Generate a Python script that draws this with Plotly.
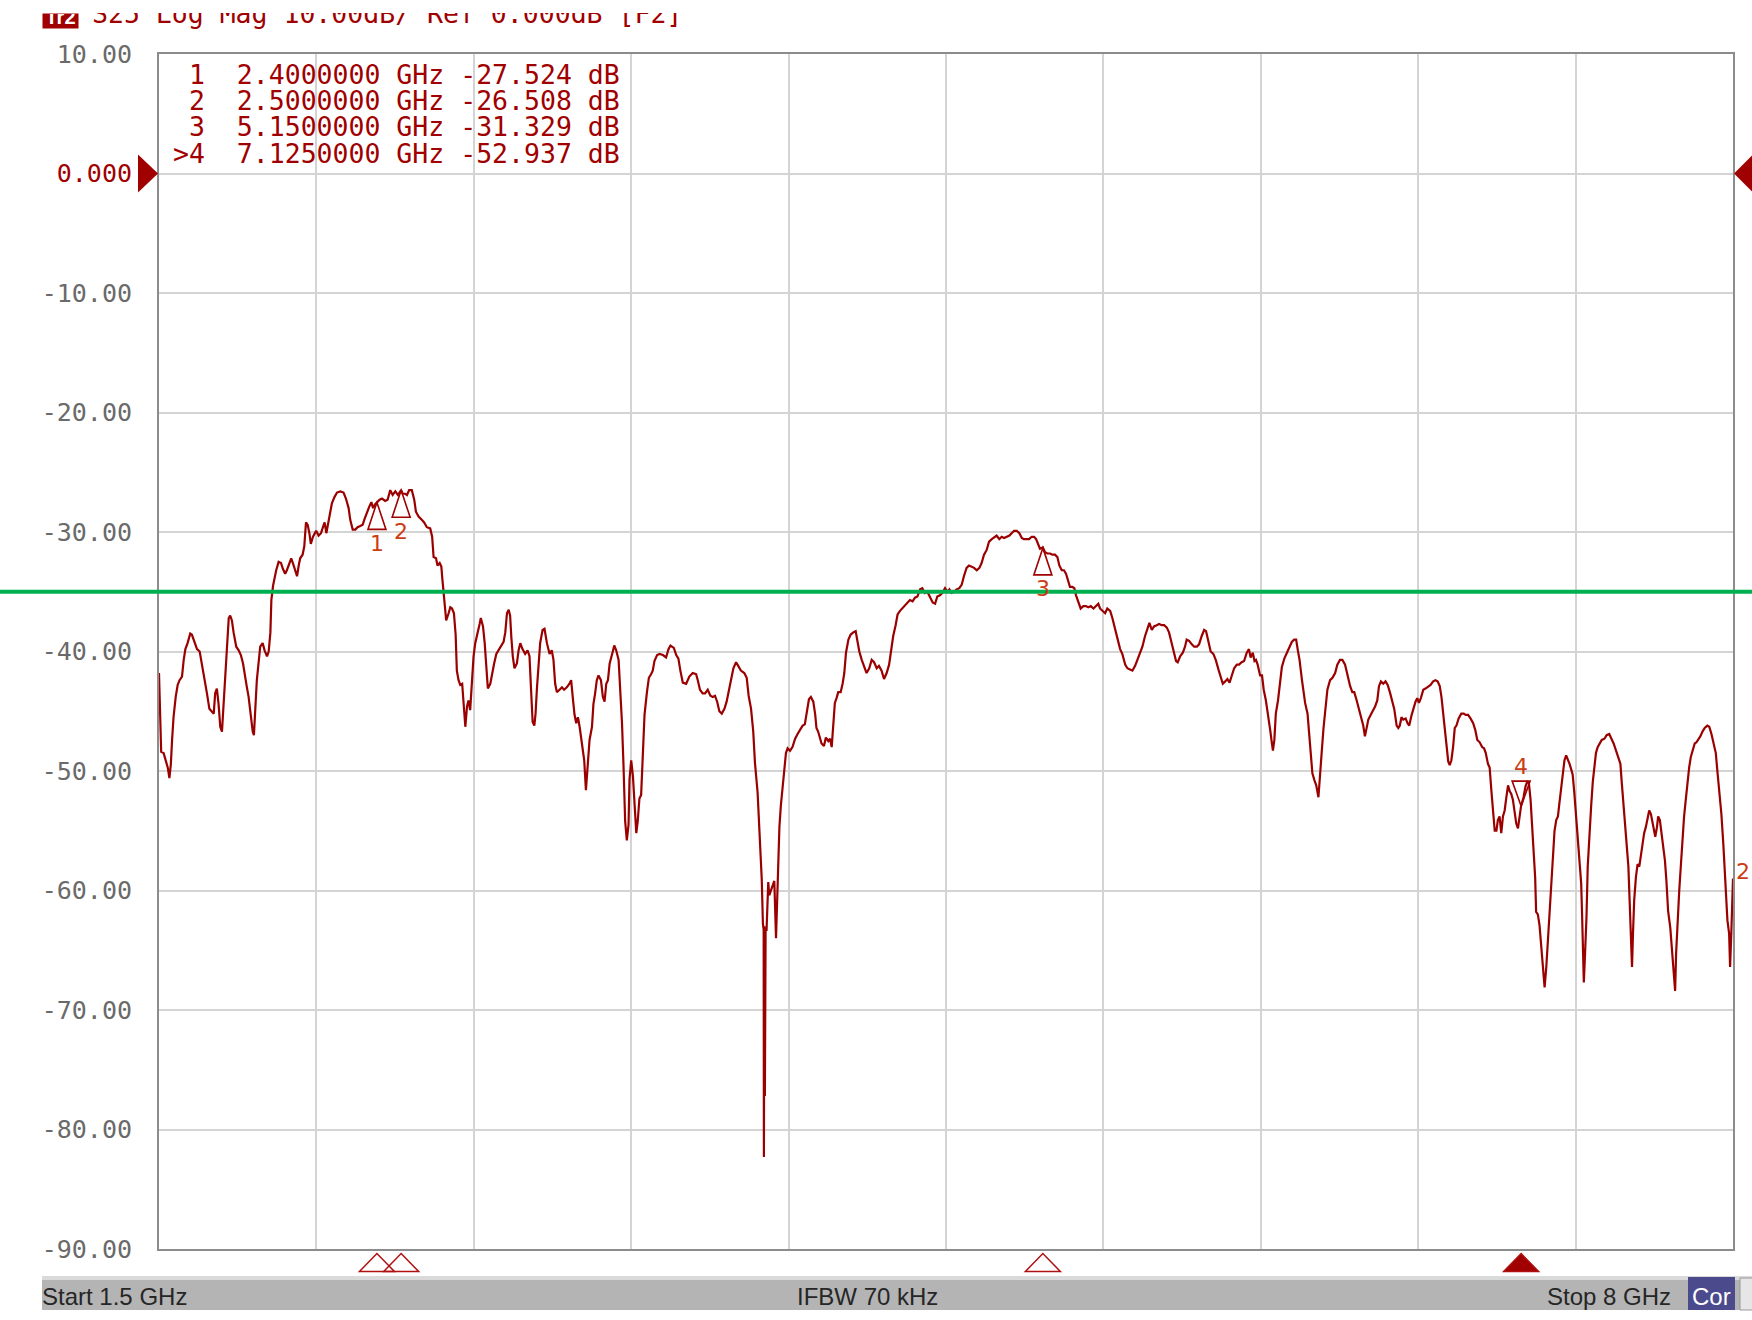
import plotly.graph_objects as go

# ---------------- data ----------------
freq_ghz = [
    1.500, 1.505, 1.509, 1.519, 1.529, 1.536, 1.543, 1.549, 1.554, 1.560,
    1.569, 1.577, 1.585, 1.595, 1.602, 1.609, 1.618, 1.629, 1.636, 1.646,
    1.657, 1.668, 1.677, 1.687, 1.698, 1.708, 1.719, 1.726, 1.732, 1.739,
    1.746, 1.753, 1.760, 1.767, 1.774, 1.781, 1.788, 1.794, 1.801, 1.808,
    1.819, 1.829, 1.838, 1.847, 1.856, 1.863, 1.870, 1.877, 1.887, 1.892,
    1.898, 1.904, 1.911, 1.918, 1.928, 1.936, 1.946, 1.953, 1.960, 1.964,
    1.971, 1.976, 1.984, 1.994, 2.004, 2.012, 2.021, 2.028, 2.038, 2.046,
    2.056, 2.063, 2.070, 2.077, 2.083, 2.093, 2.100, 2.107, 2.114, 2.121,
    2.127, 2.136, 2.143, 2.149, 2.159, 2.169, 2.177, 2.184, 2.191, 2.198,
    2.207, 2.214, 2.224, 2.235, 2.249, 2.262, 2.272, 2.283, 2.290, 2.300,
    2.311, 2.320, 2.331, 2.341, 2.349, 2.359, 2.368, 2.377, 2.384, 2.392,
    2.400, 2.411, 2.421, 2.434, 2.444, 2.455, 2.465, 2.476, 2.487, 2.500,
    2.506, 2.517, 2.524, 2.533, 2.544, 2.554, 2.561, 2.572, 2.586, 2.595,
    2.606, 2.620, 2.628, 2.634, 2.644, 2.650, 2.659, 2.666, 2.670, 2.675,
    2.679, 2.686, 2.696, 2.703, 2.710, 2.718, 2.725, 2.730, 2.737, 2.744,
    2.752, 2.758, 2.765, 2.772, 2.778, 2.785, 2.792, 2.799, 2.806, 2.816,
    2.824, 2.829, 2.838, 2.845, 2.851, 2.858, 2.868, 2.876, 2.884, 2.893,
    2.902, 2.912, 2.923, 2.930, 2.937, 2.944, 2.950, 2.955, 2.961, 2.968,
    2.978, 2.985, 2.992, 3.001, 3.012, 3.022, 3.030, 3.036, 3.043, 3.050,
    3.055, 3.061, 3.067, 3.074, 3.084, 3.092, 3.102, 3.113, 3.122, 3.129,
    3.136, 3.143, 3.154, 3.164, 3.173, 3.184, 3.195, 3.202, 3.209, 3.216,
    3.223, 3.230, 3.237, 3.244, 3.250, 3.256, 3.263, 3.270, 3.278, 3.288,
    3.294, 3.301, 3.308, 3.315, 3.325, 3.333, 3.340, 3.347, 3.354, 3.361,
    3.367, 3.374, 3.380, 3.388, 3.398, 3.405, 3.412, 3.418, 3.425, 3.432,
    3.439, 3.443, 3.450, 3.457, 3.464, 3.471, 3.477, 3.484, 3.491, 3.498,
    3.505, 3.515, 3.523, 3.532, 3.539, 3.546, 3.557, 3.567, 3.581, 3.594,
    3.604, 3.612, 3.626, 3.636, 3.645, 3.653, 3.663, 3.677, 3.690, 3.704,
    3.718, 3.725, 3.734, 3.745, 3.755, 3.766, 3.777, 3.787, 3.796, 3.805,
    3.814, 3.824, 3.835, 3.844, 3.853, 3.862, 3.872, 3.883, 3.892, 3.903,
    3.917, 3.927, 3.935, 3.945, 3.954, 3.961, 3.972, 3.982, 3.989, 3.994,
    3.997, 3.998, 4.000, 4.002, 4.005, 4.009, 4.016, 4.020, 4.027, 4.034,
    4.041, 4.048, 4.055, 4.062, 4.068, 4.075, 4.082, 4.089, 4.096, 4.106,
    4.116, 4.127, 4.137, 4.148, 4.158, 4.167, 4.176, 4.184, 4.192, 4.202,
    4.210, 4.215, 4.222, 4.236, 4.246, 4.254, 4.264, 4.271, 4.278, 4.285,
    4.291, 4.298, 4.305, 4.315, 4.323, 4.330, 4.337, 4.347, 4.356, 4.367,
    4.377, 4.384, 4.392, 4.402, 4.411, 4.422, 4.433, 4.443, 4.453, 4.464,
    4.473, 4.484, 4.494, 4.505, 4.515, 4.523, 4.532, 4.542, 4.550, 4.560,
    4.570, 4.581, 4.590, 4.601, 4.612, 4.622, 4.632, 4.643, 4.652, 4.663,
    4.673, 4.684, 4.695, 4.705, 4.714, 4.725, 4.735, 4.746, 4.756, 4.764,
    4.773, 4.783, 4.794, 4.805, 4.815, 4.824, 4.835, 4.845, 4.856, 4.866,
    4.877, 4.888, 4.897, 4.907, 4.918, 4.928, 4.939, 4.950, 4.959, 4.970,
    4.980, 4.990, 5.001, 5.012, 5.021, 5.031, 5.042, 5.053, 5.063, 5.072,
    5.083, 5.093, 5.104, 5.114, 5.122, 5.131, 5.138, 5.150, 5.159, 5.169,
    5.180, 5.189, 5.200, 5.210, 5.218, 5.228, 5.237, 5.246, 5.255, 5.262,
    5.272, 5.280, 5.287, 5.297, 5.306, 5.317, 5.327, 5.338, 5.348, 5.359,
    5.370, 5.379, 5.386, 5.396, 5.407, 5.416, 5.428, 5.437, 5.448, 5.458,
    5.469, 5.478, 5.490, 5.499, 5.510, 5.520, 5.531, 5.540, 5.551, 5.561,
    5.572, 5.582, 5.590, 5.600, 5.609, 5.620, 5.630, 5.641, 5.651, 5.662,
    5.671, 5.682, 5.692, 5.700, 5.707, 5.717, 5.728, 5.737, 5.744, 5.754,
    5.765, 5.775, 5.786, 5.795, 5.806, 5.816, 5.824, 5.834, 5.843, 5.854,
    5.864, 5.875, 5.885, 5.893, 5.903, 5.912, 5.921, 5.930, 5.940, 5.951,
    5.960, 5.971, 5.981, 5.992, 6.001, 6.008, 6.017, 6.024, 6.030, 6.037,
    6.047, 6.055, 6.062, 6.071, 6.080, 6.089, 6.096, 6.100, 6.106, 6.112,
    6.121, 6.130, 6.137, 6.147, 6.158, 6.167, 6.178, 6.188, 6.196, 6.203,
    6.210, 6.220, 6.226, 6.233, 6.243, 6.250, 6.258, 6.263, 6.272, 6.279,
    6.288, 6.295, 6.302, 6.309, 6.316, 6.325, 6.336, 6.346, 6.357, 6.366,
    6.377, 6.387, 6.398, 6.408, 6.419, 6.428, 6.436, 6.446, 6.456, 6.464,
    6.473, 6.480, 6.487, 6.494, 6.504, 6.512, 6.522, 6.531, 6.538, 6.546,
    6.556, 6.565, 6.574, 6.583, 6.593, 6.601, 6.611, 6.618, 6.624, 6.631,
    6.638, 6.648, 6.656, 6.663, 6.673, 6.682, 6.689, 6.696, 6.703, 6.711,
    6.721, 6.730, 6.741, 6.751, 6.762, 6.771, 6.780, 6.789, 6.796, 6.803,
    6.810, 6.817, 6.824, 6.830, 6.837, 6.844, 6.851, 6.858, 6.867, 6.878,
    6.888, 6.896, 6.906, 6.916, 6.927, 6.936, 6.944, 6.954, 6.964, 6.972,
    6.979, 6.988, 6.995, 7.002, 7.009, 7.016, 7.023, 7.029, 7.036, 7.043,
    7.050, 7.057, 7.064, 7.071, 7.078, 7.084, 7.091, 7.098, 7.105, 7.112,
    7.119, 7.125, 7.135, 7.143, 7.150, 7.157, 7.164, 7.171, 7.178, 7.183,
    7.187, 7.194, 7.201, 7.208, 7.215, 7.222, 7.229, 7.235, 7.242, 7.249,
    7.256, 7.263, 7.270, 7.277, 7.283, 7.290, 7.297, 7.304, 7.311, 7.318,
    7.325, 7.331, 7.338, 7.345, 7.352, 7.359, 7.366, 7.373, 7.377, 7.381,
    7.384, 7.389, 7.395, 7.400, 7.407, 7.414, 7.421, 7.428, 7.434, 7.441,
    7.448, 7.458, 7.469, 7.478, 7.489, 7.499, 7.507, 7.517, 7.526, 7.535,
    7.540, 7.548, 7.555, 7.562, 7.568, 7.573, 7.579, 7.583, 7.587, 7.592,
    7.599, 7.606, 7.613, 7.620, 7.627, 7.633, 7.640, 7.647, 7.654, 7.661,
    7.665, 7.672, 7.679, 7.686, 7.691, 7.698, 7.705, 7.712, 7.719, 7.725,
    7.732, 7.741, 7.747, 7.754, 7.761, 7.765, 7.771, 7.778, 7.785, 7.791,
    7.798, 7.805, 7.812, 7.819, 7.826, 7.833, 7.842, 7.849, 7.856, 7.865,
    7.874, 7.883, 7.894, 7.902, 7.911, 7.919, 7.929, 7.935, 7.944, 7.952,
    7.960, 7.967, 7.974, 7.977, 7.984, 7.988, 7.993, 7.996, 8.000,
]

s25_db = [
    -41.8, -45.9, -48.4, -48.5, -49.1, -49.7, -50.6, -49.4, -47.4, -45.5,
    -43.8, -42.8, -42.4, -42.1, -40.7, -39.8, -39.3, -38.5, -38.6, -39.2,
    -39.8, -40.0, -41.0, -42.1, -43.5, -44.8, -45.0, -45.2, -43.5, -43.1,
    -44.4, -46.3, -46.7, -44.1, -42.1, -39.3, -37.2, -37.0, -37.4, -38.4,
    -39.6, -39.9, -40.3, -41.0, -42.4, -43.0, -43.8, -45.2, -46.7, -47.0,
    -44.6, -42.4, -41.0, -39.6, -39.3, -39.9, -40.4, -40.0, -38.4, -35.7,
    -34.5, -33.9, -33.2, -32.5, -32.6, -33.1, -33.5, -33.2, -32.6, -32.2,
    -32.8, -33.2, -33.7, -32.8, -32.2, -31.9, -31.2, -29.2, -29.4, -30.1,
    -31.0, -30.4, -30.1, -29.9, -30.3, -30.1, -29.6, -29.2, -30.1, -29.4,
    -28.6, -27.6, -27.1, -26.7, -26.6, -26.7, -27.2, -28.0, -29.0, -29.8,
    -29.8, -29.6, -29.5, -29.4, -28.9, -28.3, -27.9, -27.5, -28.0, -27.7,
    -27.5, -27.3, -27.2, -27.4, -27.3, -26.5, -26.9, -26.6, -26.9, -26.5,
    -26.8, -26.8, -26.9, -26.5, -26.5, -27.3, -28.3, -28.7, -29.0, -29.2,
    -29.6, -29.7, -30.4, -32.1, -32.2, -32.8, -32.6, -32.9, -33.9, -34.9,
    -36.0, -37.4, -36.8, -36.3, -36.4, -36.8, -38.6, -41.6, -42.4, -42.8,
    -42.7, -44.4, -46.3, -44.6, -44.1, -44.9, -42.7, -40.4, -39.3, -38.5,
    -37.7, -37.2, -37.9, -39.3, -41.0, -43.1, -42.7, -41.7, -41.0, -40.2,
    -39.9, -39.6, -39.2, -38.4, -36.8, -36.5, -37.0, -38.8, -40.4, -41.4,
    -41.0, -39.9, -39.3, -39.8, -40.2, -39.9, -40.4, -43.0, -45.9, -46.2,
    -45.2, -43.0, -41.3, -39.3, -38.2, -38.1, -39.3, -40.2, -39.9, -40.7,
    -42.7, -43.4, -43.2, -43.0, -43.2, -43.0, -42.7, -42.4, -43.9, -45.3,
    -46.0, -45.5, -46.3, -47.4, -48.1, -49.1, -51.6, -49.7, -47.4, -46.3,
    -44.4, -43.5, -42.4, -42.0, -42.4, -43.8, -44.2, -42.7, -42.4, -41.0,
    -40.6, -40.0, -39.5, -39.9, -40.7, -43.2, -46.0, -49.4, -54.2, -55.8,
    -54.5, -50.7, -49.1, -50.4, -53.1, -55.2, -54.2, -52.3, -52.0, -49.1,
    -45.3, -43.4, -42.2, -41.9, -41.6, -40.8, -40.3, -40.2, -40.3, -40.5,
    -39.8, -39.5, -39.7, -40.3, -40.6, -41.6, -42.6, -42.7, -42.1, -41.8,
    -41.9, -42.4, -43.2, -43.5, -43.5, -43.2, -43.7, -43.8, -43.7, -44.2,
    -45.0, -45.2, -44.8, -44.2, -43.4, -42.4, -41.4, -40.9, -41.2, -41.6,
    -41.8, -42.2, -43.7, -44.8, -46.7, -49.3, -51.8, -55.7, -59.0, -62.8,
    -63.3, -82.3, -63.0, -77.2, -63.3, -63.3, -59.3, -60.4, -60.0, -59.5,
    -59.2, -64.0, -59.0, -54.7, -52.9, -51.5, -50.5, -48.5, -48.1, -48.3,
    -48.0, -47.3, -46.9, -46.5, -46.2, -46.1, -45.0, -44.0, -43.8, -44.2,
    -45.3, -46.4, -46.7, -47.7, -47.9, -47.2, -47.5, -47.3, -48.0, -46.2,
    -44.3, -43.9, -43.4, -43.4, -42.7, -41.8, -40.1, -39.0, -38.6, -38.4,
    -38.3, -39.1, -40.0, -40.7, -41.2, -41.8, -41.4, -40.7, -40.9, -41.4,
    -41.2, -41.6, -42.3, -41.8, -41.1, -40.0, -38.7, -37.8, -36.9, -36.6,
    -36.4, -36.1, -36.0, -35.7, -35.8, -35.5, -35.4, -34.8, -34.7, -35.1,
    -35.0, -35.4, -35.9, -36.0, -35.4, -35.3, -35.1, -34.7, -35.0, -34.8,
    -35.1, -35.0, -34.8, -34.7, -34.4, -33.7, -33.0, -32.8, -32.9, -33.0,
    -33.2, -33.0, -32.6, -31.9, -31.5, -30.8, -30.6, -30.4, -30.3, -30.6,
    -30.4, -30.5, -30.4, -30.3, -30.1, -29.9, -29.9, -30.1, -30.5, -30.6,
    -30.6, -30.6, -30.4, -30.4, -30.6, -31.0, -31.4, -31.3, -31.7, -31.8,
    -31.8, -31.9, -31.9, -32.1, -32.8, -33.2, -33.2, -33.5, -34.2, -34.6,
    -34.6, -34.7, -35.3, -35.8, -36.4, -36.2, -36.2, -36.3, -36.2, -36.4,
    -36.2, -36.0, -36.4, -36.6, -36.8, -36.4, -36.6, -37.2, -38.0, -38.9,
    -39.8, -40.2, -41.1, -41.4, -41.5, -41.6, -41.2, -40.7, -40.0, -39.6,
    -38.7, -38.0, -37.6, -38.2, -37.9, -37.8, -37.7, -37.8, -37.8, -38.0,
    -38.4, -39.3, -40.2, -40.8, -40.9, -40.4, -40.1, -39.6, -39.0, -39.1,
    -39.4, -39.6, -39.6, -39.4, -38.7, -38.2, -38.3, -39.3, -40.0, -40.2,
    -40.7, -41.5, -42.3, -42.7, -42.5, -42.3, -42.6, -42.0, -41.4, -41.1,
    -41.1, -40.9, -40.8, -40.1, -39.8, -40.5, -40.1, -40.8, -40.7, -41.1,
    -42.0, -42.0, -43.2, -44.1, -45.2, -46.6, -47.7, -48.3, -47.4, -45.2,
    -44.1, -42.7, -41.3, -40.6, -40.1, -39.6, -39.2, -39.0, -39.0, -39.9,
    -40.7, -42.4, -43.2, -44.3, -45.2, -46.9, -48.8, -50.2, -50.8, -51.2,
    -52.2, -49.9, -48.3, -46.4, -45.2, -43.2, -42.4, -42.2, -41.8, -41.1,
    -40.7, -40.7, -41.1, -42.0, -42.9, -43.4, -43.4, -44.1, -44.9, -45.5,
    -46.2, -47.1, -46.4, -45.7, -45.3, -45.0, -44.6, -44.1, -42.9, -42.5,
    -42.7, -42.5, -42.8, -43.4, -44.1, -44.8, -46.2, -46.4, -46.2, -45.5,
    -45.7, -45.6, -46.0, -46.2, -45.3, -44.6, -44.2, -43.9, -44.3, -43.9,
    -43.2, -43.1, -42.9, -42.8, -42.5, -42.4, -42.5, -42.9, -43.8, -45.2,
    -46.7, -48.3, -49.2, -49.5, -49.1, -48.0, -46.4, -46.2, -45.6, -45.2,
    -45.2, -45.3, -45.3, -45.6, -46.0, -46.6, -47.4, -47.6, -48.0, -48.1,
    -48.5, -49.4, -49.7, -51.6, -53.6, -55.0, -55.0, -54.1, -53.8, -55.2,
    -53.8, -53.3, -52.2, -51.2, -51.7, -51.9, -52.4, -53.6, -54.4, -54.8,
    -53.8, -52.9, -52.2, -51.3, -50.9, -51.0, -52.4, -55.0, -56.9, -58.9,
    -61.8, -62.0, -62.9, -64.5, -66.4, -68.1, -66.4, -64.5, -62.5, -60.0,
    -57.2, -55.0, -54.1, -53.8, -52.7, -51.6, -50.5, -49.1, -48.7, -49.0,
    -49.4, -49.8, -50.3, -51.9, -53.8, -55.8, -58.0, -59.4, -62.2, -65.9,
    -67.7, -65.3, -62.2, -58.0, -55.2, -53.0, -50.9, -49.7, -48.5, -48.0,
    -47.7, -47.4, -47.3, -47.0, -46.9, -47.3, -47.7, -48.3, -48.8, -49.4,
    -50.8, -53.0, -54.7, -56.9, -58.0, -60.8, -63.6, -66.4, -63.6, -60.8,
    -58.9, -57.8, -58.0, -56.9, -56.1, -55.2, -54.7, -54.1, -53.3, -53.6,
    -54.1, -55.0, -55.5, -54.7, -53.8, -54.1, -55.2, -56.4, -57.5, -59.2,
    -61.7, -63.1, -64.8, -66.2, -68.4, -65.3, -62.5, -60.0, -57.8, -55.8,
    -53.8, -52.4, -50.8, -49.7, -48.8, -48.3, -47.7, -47.6, -47.4, -47.1,
    -46.7, -46.4, -46.2, -46.3, -46.9, -47.7, -48.5, -49.9, -51.6, -53.6,
    -56.1, -58.6, -60.8, -62.5, -63.6, -66.4, -63.6, -60.8, -59.0,
]

marker_ids = ["1", "2", "3", "4"]
marker_freq_ghz = [2.4, 2.5, 5.15, 7.125]
marker_db = [-27.524, -26.508, -31.329, -52.937]
active_marker = "4"

y_tick_vals = [10, 0, -10, -20, -30, -40, -50, -60, -70, -80, -90]
y_tick_text = ["10.00", "0.000", "-10.00", "-20.00", "-30.00", "-40.00",
               "-50.00", "-60.00", "-70.00", "-80.00", "-90.00"]

start_ghz = 1.5
stop_ghz = 8.0
x_divisions = 10
ref_level_db = 0.0
limit_line_db = -35.0

trace_tag = "Tr2"
trace_number = "2"
header_text = "S25 Log Mag 10.00dB/ Ref 0.000dB [F2]"
status_left = "Start 1.5 GHz"
status_mid = "IFBW 70 kHz"
status_right = "Stop 8 GHz"
status_flag = "Cor"

# ---------------- layout helpers ----------------
W, H = 1752, 1320
ML, MT, MR, MB = 159, 54, 19, 71
PW, PH = W - ML - MR, H - MT - MB


def px_x(sx):
    """page x (px) -> paper x"""
    return (sx - ML) / PW


def px_y(sy):
    """page y (px) -> paper y"""
    return (H - MB - sy) / PH


NB = "\u00a0"


def nb(s):
    return s.replace(" ", NB)


RED = "#a00000"
TRACE = "#9b0000"
LABEL = "#cc3c14"
MONO = "DejaVu Sans Mono"
SANS = "Liberation Sans"

fig = go.Figure()
fig.add_trace(go.Scatter(
    x=freq_ghz, y=s25_db, mode="lines",
    line=dict(color=TRACE, width=2.2),
    hoverinfo="skip", showlegend=False,
))

x_grid = [start_ghz + i * (stop_ghz - start_ghz) / x_divisions for i in range(x_divisions + 1)]
tick_text_styled = [
    f'<span style="color:{RED}">{t}</span>' if v == ref_level_db else t
    for v, t in zip(y_tick_vals, y_tick_text)
]

shapes = []
annotations = []

# limit line across whole width
shapes.append(dict(type="line", xref="paper", yref="y", x0=px_x(0), x1=px_x(W),
                   y0=limit_line_db, y1=limit_line_db,
                   line=dict(color="#00b050", width=4), layer="above"))

# reference level arrows
shapes.append(dict(type="path", xref="paper", yref="y", xsizemode="pixel", ysizemode="pixel",
                   xanchor=0, yanchor=ref_level_db, path="M-21,19 L-1,0 L-21,-19 Z",
                   fillcolor=RED, line=dict(width=0), layer="above"))
shapes.append(dict(type="path", xref="paper", yref="y", xsizemode="pixel", ysizemode="pixel",
                   xanchor=1, yanchor=ref_level_db, path="M1,0 L20,19 L20,-19 Z",
                   fillcolor=RED, line=dict(width=0), layer="above"))

# markers
for mid, f, v in zip(marker_ids, marker_freq_ghz, marker_db):
    active = mid == active_marker
    tri = "M0,0 L-9,25 L9,25 Z" if active else "M0,0 L-9,-27 L9,-27 Z"
    shapes.append(dict(type="path", xref="x", yref="y", xsizemode="pixel", ysizemode="pixel",
                       xanchor=f, yanchor=v, path=tri,
                       line=dict(color=RED, width=1.6), layer="above"))
    shapes.append(dict(type="path", xref="x", yref="paper", xsizemode="pixel", ysizemode="pixel",
                       xanchor=f, yanchor=0, path="M-17.5,-22.5 L0,-4.5 L17.5,-22.5 Z",
                       line=dict(color="#b01010", width=1.5),
                       fillcolor=RED if active else "rgba(0,0,0,0)", layer="above"))
    annotations.append(dict(x=f, y=v, xref="x", yref="y", text=mid, showarrow=False,
                            yshift=40 if active else -41,
                            font=dict(family="DejaVu Sans", size=22, color=LABEL)))

# trace end label
annotations.append(dict(x=freq_ghz[-1], y=s25_db[-1], xref="x", yref="y", text=trace_number,
                        showarrow=False, xanchor="left", xshift=1, yshift=7,
                        font=dict(family="DejaVu Sans", size=22, color=LABEL)))

# marker table
for i, (mid, f, v) in enumerate(zip(marker_ids, marker_freq_ghz, marker_db)):
    prefix = ">" if mid == active_marker else " "
    row = f"{prefix}{mid}  {f:.7f} GHz {v:.3f} dB"
    annotations.append(dict(x=px_x(171), y=px_y(75 + 26 * i), xref="paper", yref="paper",
                            xanchor="left", yanchor="middle", text=nb(row), showarrow=False,
                            font=dict(family=MONO, size=26.5, color=RED)))

# header (top clipped)
annotations.append(dict(x=px_x(91), y=px_y(30), xref="paper", yref="paper",
                        xanchor="left", yanchor="bottom", text=nb(header_text), showarrow=False,
                        height=16, valign="bottom", borderpad=0,
                        font=dict(family=MONO, size=26.5, color=RED)))
annotations.append(dict(x=px_x(42), y=px_y(28.5), xref="paper", yref="paper",
                        xanchor="left", yanchor="bottom", text="<b>" + trace_tag + "</b>",
                        showarrow=False, width=35, height=14, valign="bottom", borderpad=0,
                        bgcolor=RED, font=dict(family=SANS, size=20, color="#ffffff")))

# status bar
shapes.append(dict(type="rect", xref="paper", yref="paper", x0=px_x(42), x1=px_x(W),
                   y0=px_y(1276), y1=px_y(1310), fillcolor="#b4b4b4", line=dict(width=0)))
shapes.append(dict(type="rect", xref="paper", yref="paper", x0=px_x(42), x1=px_x(W),
                   y0=px_y(1276), y1=px_y(1280), fillcolor="#dadada", line=dict(width=0)))
shapes.append(dict(type="rect", xref="paper", yref="paper", x0=px_x(1688), x1=px_x(1735),
                   y0=px_y(1277), y1=px_y(1310), fillcolor="#4a4a8c", line=dict(width=0)))
shapes.append(dict(type="rect", xref="paper", yref="paper", x0=px_x(1740), x1=px_x(W + 1),
                   y0=px_y(1278), y1=px_y(1310), fillcolor="#e6e6e6",
                   line=dict(color="#9a9a9a", width=1)))

status_font = dict(family=SANS, size=24, color="#262626")
annotations.append(dict(x=px_x(40), y=px_y(1296), xref="paper", yref="paper", xanchor="left",
                        yanchor="middle", text=status_left, showarrow=False, font=status_font))
annotations.append(dict(x=px_x(867), y=px_y(1296), xref="paper", yref="paper", xanchor="center",
                        yanchor="middle", text=status_mid, showarrow=False, font=status_font))
annotations.append(dict(x=px_x(1673), y=px_y(1296), xref="paper", yref="paper", xanchor="right",
                        yanchor="middle", text=status_right, showarrow=False, font=status_font))
annotations.append(dict(x=px_x(1711.5), y=px_y(1296), xref="paper", yref="paper", xanchor="center",
                        yanchor="middle", text=status_flag, showarrow=False,
                        font=dict(family=SANS, size=24, color="#ffffff")))

fig.update_layout(
    width=W, height=H,
    margin=dict(l=ML, r=MR, t=MT, b=MB, pad=0),
    paper_bgcolor="#ffffff", plot_bgcolor="#ffffff",
    shapes=shapes, annotations=annotations,
    showlegend=False,
    xaxis=dict(range=[start_ghz, stop_ghz], tickvals=x_grid, showticklabels=False, ticks="",
               showgrid=True, gridcolor="#d4d4d4", gridwidth=2, zeroline=False,
               showline=True, mirror=True, linecolor="#8c8c8c", linewidth=2, fixedrange=True),
    yaxis=dict(range=[-90, 10], tickvals=y_tick_vals, ticktext=tick_text_styled, ticks="",
               tickfont=dict(family=MONO, size=25, color="#6a6a6a"), ticklabelstandoff=20,
               showgrid=True, gridcolor="#d4d4d4", gridwidth=2, zeroline=False,
               showline=True, mirror=True, linecolor="#8c8c8c", linewidth=2, fixedrange=True),
)

# remove the browser's default 8px page margin so the figure fills the window exactly
fig.write_html("out.html",
               config={"displayModeBar": False, "displaylogo": False},
               post_script="document.body.style.margin='0px';")
